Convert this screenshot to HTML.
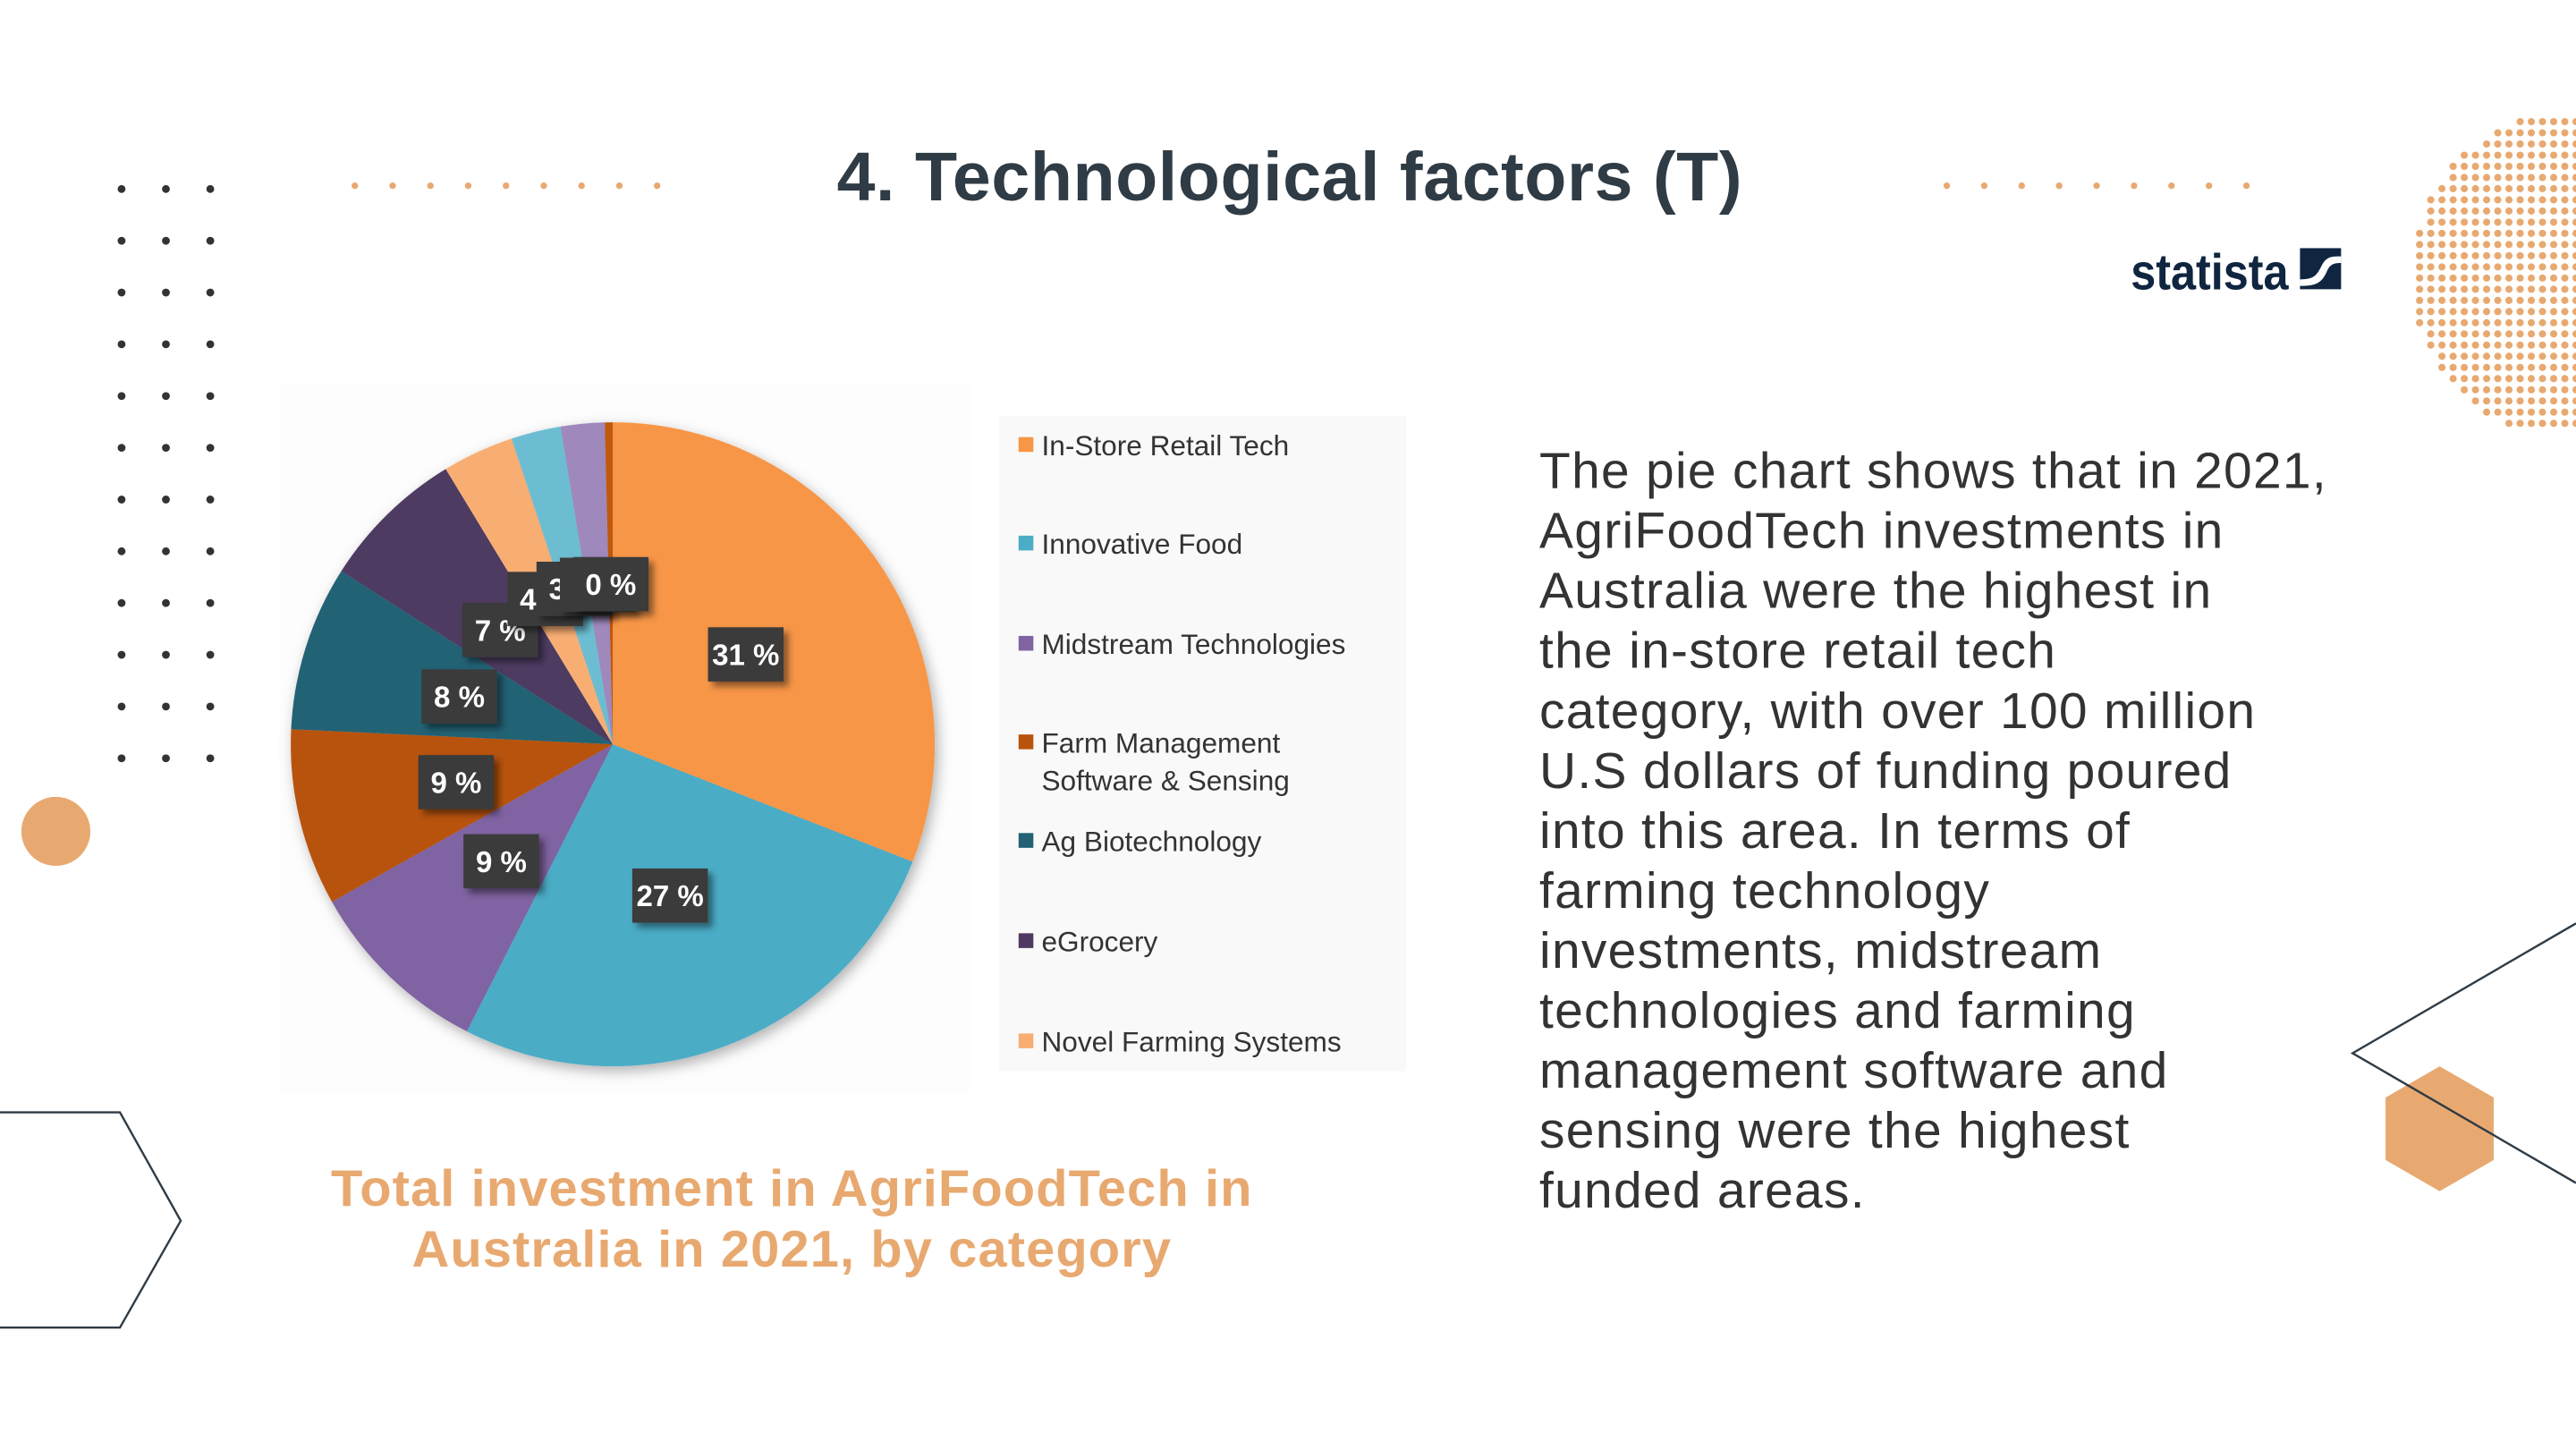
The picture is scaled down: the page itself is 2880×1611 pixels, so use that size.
<!DOCTYPE html>
<html><head><meta charset="utf-8"><style>
html,body{margin:0;padding:0;background:#fff;}
svg{display:block;}
</style></head><body>
<svg id="s" width="2880" height="1611" viewBox="0 0 1568 877" xmlns="http://www.w3.org/2000/svg">
<defs>
<filter id="sh" x="-20%" y="-20%" width="140%" height="140%"><feDropShadow dx="2" dy="3" stdDeviation="4" flood-color="#000" flood-opacity="0.3"/></filter>
<filter id="lsh" x="-30%" y="-30%" width="160%" height="160%"><feDropShadow dx="3" dy="3" stdDeviation="2" flood-color="#000" flood-opacity="0.45"/></filter>
</defs>
<g id="deco"></g>
<text x="785" y="122" text-anchor="middle" font-family="Liberation Sans, sans-serif" font-weight="bold" font-size="42" letter-spacing="0.3" fill="#2F3B45">4. Technological factors (T)</text>
<g>
<text x="1297" y="176" font-family="Liberation Sans, sans-serif" font-weight="bold" font-size="31" fill="#0F2540" textLength="96" lengthAdjust="spacingAndGlyphs">statista</text>
<rect x="1400" y="151" width="25" height="25" fill="#0F2540"/>
<path d="M1400 170 C1408 170 1410 168 1413 162 C1416 156 1419 156 1425 156 L1425 160 C1420 160 1418 161 1416 166 C1413 172 1410 174 1400 174 Z" fill="#fff"/>
</g>
<rect x="170" y="233" width="420" height="432" fill="#fdfdfd"/>
<g id="pie" filter="url(#sh)"></g>
<g id="labels"></g>
<rect x="608" y="253" width="248" height="399" fill="#f9f9f9"/>
<g id="legend"></g>
<g font-family="Liberation Sans, sans-serif" font-weight="bold" font-size="31.5" letter-spacing="0.6" fill="#E8A970" text-anchor="middle">
<text x="482" y="734">Total investment in AgriFoodTech in</text>
<text x="482" y="771">Australia in 2021, by category</text>
</g>
<g id="para" font-family="Liberation Sans, sans-serif" font-size="31" letter-spacing="0.7" fill="#333"></g>
</svg>
<script>
const categories=["In-Store Retail Tech","Innovative Food","Midstream Technologies","Farm Management Software & Sensing","Ag Biotechnology","eGrocery","Novel Farming Systems","Other 1","Other 2","Other 3"];
const values=[31,26.6,9.4,8.9,8.3,7.3,3.6,2.5,2.2,0.4];
const colors=["#F79646","#4BACC6","#8064A2","#B8530E","#236275","#4E3B62","#F8AE72","#6CBDD2","#9E88BC","#C0580F"];
const legendLines=[["In-Store Retail Tech"],["Innovative Food"],["Midstream Technologies"],["Farm Management","Software & Sensing"],["Ag Biotechnology"],["eGrocery"],["Novel Farming Systems"]];
const NS="http://www.w3.org/2000/svg";
function mk(t,a,p){const e=document.createElementNS(NS,t);for(const k in a)e.setAttribute(k,a[k]);p.appendChild(e);return e;}
const cx=373,cy=453,R=196;
const total=values.reduce((a,b)=>a+b,0);
function angle(v){return v/total*2*Math.PI;}
function pt(a,r){return [cx+r*Math.sin(a),cy-r*Math.cos(a)];}
const pie=document.getElementById('pie'),lab=document.getElementById('labels');
let a0=0;
values.forEach((v,i)=>{
  const a1=a0+angle(v);
  const p0=pt(a0,R),p1=pt(a1,R);
  const large=(a1-a0)>Math.PI?1:0;
  const s=mk('path',{d:`M${cx} ${cy} L${p0[0]} ${p0[1]} A${R} ${R} 0 ${large} 1 ${p1[0]} ${p1[1]} Z`,fill:colors[i]},pie);
  
  
  const m=(a0+a1)/2;const q=pt(m,R*0.5);
  const g=mk('g',{filter:'url(#lsh)'},lab);
  
  
  mk('rect',{x:q[0]-23,y:q[1]-16,width:46,height:33,fill:'#3a3a3a'},g);
  const t=mk('text',{x:q[0],y:q[1]+7,'text-anchor':'middle','font-family':'Liberation Sans, sans-serif','font-weight':'bold','font-size':18,fill:'#fff'},g);
  t.textContent=Math.round(v)+' %';
  a0=a1;
});
const leg=document.getElementById('legend');
const ly=[271,331,392,452,512,573,634];
legendLines.forEach((ls,i)=>{
  const g=mk('g',{},leg);
  
  
  mk('rect',{x:620,y:ly[i]-5,width:9,height:9,fill:colors[i]},g);
  ls.forEach((l,j)=>{const t=mk('text',{x:634,y:ly[i]+6+j*23,'font-family':'Liberation Sans, DejaVu Sans, sans-serif','font-size':17.2,fill:'#333'},g);t.textContent=l;});
});
const para=document.getElementById('para');
["The pie chart shows that in 2021,","AgriFoodTech investments in","Australia were the highest in","the in-store retail tech","category, with over 100 million","U.S dollars of funding poured","into this area. In terms of","farming technology","investments, midstream","technologies and farming","management software and","sensing were the highest","funded areas."].forEach((l,i)=>{const t=mk('text',{x:937,y:297+i*36.5},para);t.textContent=l;});
const d=document.getElementById('deco');
for(let r=0;r<12;r++)for(let c=0;c<3;c++)mk('circle',{cx:74+c*27,cy:115+r*31.5,r:2.4,fill:'#333'},d);
for(let i=0;i<9;i++){mk('circle',{cx:216+i*23,cy:113,r:2,fill:'#E8A970'},d);mk('circle',{cx:1185+i*22.8,cy:113,r:2,fill:'#E8A970'},d);}
for(let y=74;y<262;y+=6.8)for(let x=1568;x>1460;x-=6.8){if(Math.hypot(x-1568,y-167)<100)mk('circle',{cx:x,cy:y,r:2.2,fill:'#E8A970'},d);}
mk('circle',{cx:34,cy:506,r:21,fill:'#E8A970'},d);
mk('polyline',{points:'0,677 73,677 110,743 73,808 0,808',fill:'none',stroke:'#2F3B45','stroke-width':1.3},d);
const hx=1485,hy=687,hr=38;let hp=[];for(let k=0;k<6;k++){const an=Math.PI/6+k*Math.PI/3;hp.push((hx+hr*Math.cos(an))+','+(hy+hr*Math.sin(an)));}
mk('polygon',{points:hp.join(' '),fill:'#E8A970'},d);
mk('polyline',{points:'1568,562 1432,641 1568,720',fill:'none',stroke:'#2F3B45','stroke-width':1.3},d);
</script>
</body></html>
